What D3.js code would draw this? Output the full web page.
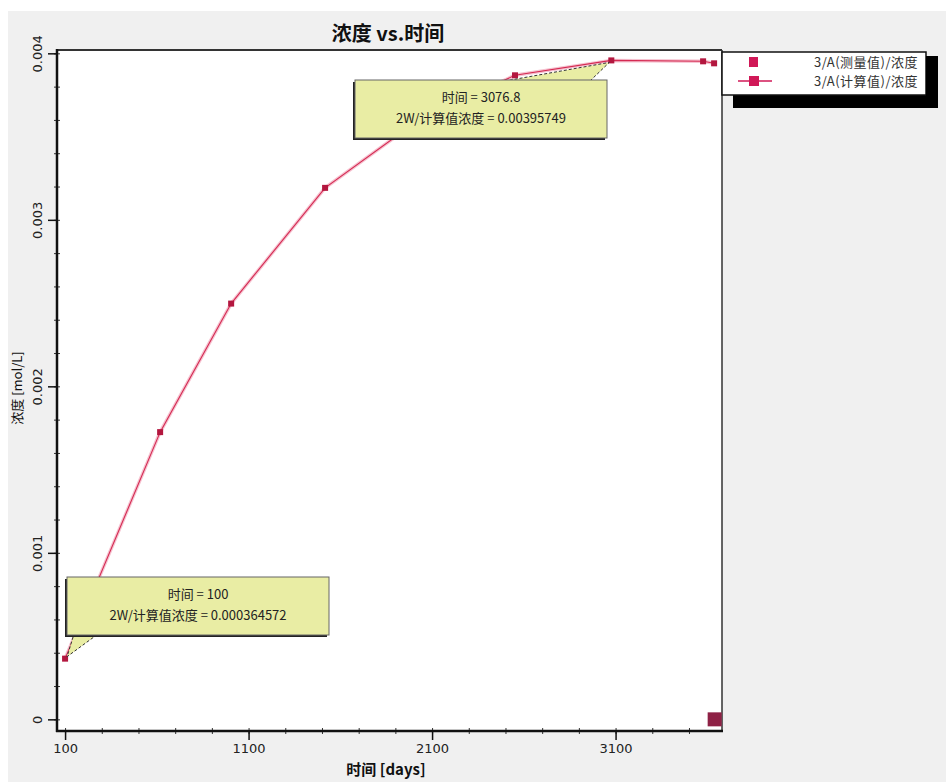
<!DOCTYPE html>
<html>
<head>
<meta charset="utf-8">
<script src="https://cdn.jsdelivr.net/npm/d3@7"></script>
<style>
  body { margin: 0; background: #fff; }
  svg { display: block; font-family: "Noto Sans CJK SC", "DejaVu Sans", sans-serif; }
</style>
</head>
<body>
<div id="chart"></div>
<script>
// ===== データ =====
const calcTimes = [100, 618, 1005, 1517, 2040, 2552, 3076.8, 3577, 3637];
const calcValues = [0.000364572, 0.001725, 0.002497, 0.003192, 0.00361, 0.003868, 0.00395749, 0.003952, 0.00394];
const measTimes = [3640];
const measValues = [0];
const xTicks = [100, 1100, 2100, 3100];
const yTicks = [0, 0.001, 0.002, 0.003, 0.004];
const yTickLabels = ["0", "0.001", "0.002", "0.003", "0.004"];
const legendLabels = ["3/A(测量值)/浓度", "3/A(计算值)/浓度"];
const tipTexts = [
  ["时间 = 100", "2W/计算值浓度 = 0.000364572"],
  ["时间 = 3076.8", "2W/计算值浓度 = 0.00395749"]
];

const W = 946, H = 782;
const P = { left: 57, right: 722, top: 50, bottom: 731 };

const svg = d3.select('#chart').append('svg').attr('width', W).attr('height', H);

// 背景パネル
svg.append('rect').attr('x', 8).attr('y', 11).attr('width', W - 8).attr('height', H - 11).attr('fill', '#f0f0f0');
svg.append('rect').attr('x', P.left).attr('y', P.top)
  .attr('width', P.right - P.left).attr('height', P.bottom - P.top).attr('fill', '#fff');

const x = d3.scaleLinear().domain([56, 3680]).range([P.left, P.right]);
const y = d3.scaleLinear().domain([-0.00007, 0.00402]).range([P.bottom, P.top]);

// 副目盛
const xMinor = d3.range(100, 3680, 200);
const yMinor = d3.range(0, 0.00401, 0.0002);
svg.append('g').attr('transform', `translate(0,${P.bottom})`)
  .call(d3.axisBottom(x).tickValues(xMinor).tickSize(3).tickFormat(''))
  .call(g => g.select('.domain').remove())
  .call(g => g.selectAll('line').attr('y1', -3).attr('stroke', '#333'));
svg.append('g').attr('transform', `translate(${P.left},0)`)
  .call(d3.axisLeft(y).tickValues(yMinor).tickSize(3).tickFormat(''))
  .call(g => g.select('.domain').remove())
  .call(g => g.selectAll('line').attr('x1', 3).attr('stroke', '#333'));

// 主目盛
svg.append('g').attr('transform', `translate(0,${P.bottom})`)
  .call(d3.axisBottom(x).tickValues(xTicks).tickSize(9).tickPadding(4).tickFormat(d3.format('d')))
  .call(g => g.select('.domain').remove())
  .call(g => g.selectAll('line').attr('stroke', '#111').attr('stroke-width', 1.5))
  .call(g => g.selectAll('text').style('font-size', '13px').attr('fill', '#222')
    .style('font-family', '"DejaVu Sans", sans-serif'));

const yAx = svg.append('g').attr('transform', `translate(${P.left},0)`)
  .call(d3.axisLeft(y).tickValues(yTicks).tickSize(9).tickFormat((d, i) => yTickLabels[i]))
  .call(g => g.select('.domain').remove())
  .call(g => g.selectAll('line').attr('stroke', '#111').attr('stroke-width', 1.5));
yAx.selectAll('text')
  .attr('x', null).attr('dy', null)
  .attr('transform', 'translate(-15,0) rotate(-90)')
  .attr('text-anchor', 'middle')
  .style('font-size', '13px').attr('fill', '#222')
  .style('font-family', '"DejaVu Sans", sans-serif');

// 枠
svg.append('line').attr('x1', P.left).attr('x2', P.right).attr('y1', P.top).attr('y2', P.top)
  .attr('stroke', '#333').attr('stroke-width', 2);
svg.append('line').attr('x1', P.right).attr('x2', P.right).attr('y1', P.top).attr('y2', P.bottom)
  .attr('stroke', '#333').attr('stroke-width', 1.5);
svg.append('line').attr('x1', P.left).attr('x2', P.left).attr('y1', P.top - 1).attr('y2', P.bottom + 1)
  .attr('stroke', '#111').attr('stroke-width', 2.5);
svg.append('line').attr('x1', P.left - 1).attr('x2', P.right + 1).attr('y1', P.bottom).attr('y2', P.bottom)
  .attr('stroke', '#111').attr('stroke-width', 2.5);

// 計算値の線
const pts = calcTimes.map((t, i) => [x(t), y(calcValues[i])]);
const line = d3.line();
svg.append('path').attr('d', line(pts)).attr('fill', 'none')
  .attr('stroke', '#f6c2d0').attr('stroke-width', 3.5);
svg.append('path').attr('d', line(pts)).attr('fill', 'none')
  .attr('stroke', '#d42a52').attr('stroke-width', 1.1);
svg.selectAll('rect.pt').data(pts).join('rect').attr('class', 'pt')
  .attr('x', d => d[0] - 3).attr('y', d => d[1] - 3).attr('width', 6).attr('height', 6)
  .attr('fill', '#b3173f');

// 測量値
svg.selectAll('rect.meas').data(measTimes).join('rect').attr('class', 'meas')
  .attr('x', (d, i) => x(d) - 7).attr('y', (d, i) => y(measValues[i]) - 7)
  .attr('width', 14).attr('height', 14).attr('fill', '#8e2145');

// ツールチップ
function tooltip(bx, by, bw, bh, tail, lines) {
  const g = svg.append('g');
  g.append('path').attr('d', d3.line()(tail) + 'Z').attr('fill', '#e9eda4')
    .attr('stroke', '#333').attr('stroke-dasharray', '3,2');
  g.append('rect').attr('x', bx - 2).attr('y', by + 2).attr('width', bw).attr('height', bh).attr('fill', '#222');
  g.append('rect').attr('x', bx).attr('y', by).attr('width', bw).attr('height', bh)
    .attr('fill', '#e9eda4').attr('stroke', '#666').attr('stroke-width', 1);
  lines.forEach((s, i) => {
    g.append('text').attr('x', bx + bw / 2).attr('y', by + 22 + i * 21)
      .attr('text-anchor', 'middle').style('font-size', '13px').attr('fill', '#222').text(s);
  });
}
const p0 = pts[0], p6 = pts[6];
tooltip(67, 577, 262, 58, [[74, 634], [98, 634], [p0[0] + 2, p0[1] - 2]], tipTexts[0]);
tooltip(355, 80, 252, 58, [[505, 81], [590, 81], [p6[0] - 2, p6[1] + 2]], tipTexts[1]);

// 凡例
const lg = svg.append('g');
lg.append('rect').attr('x', 733).attr('y', 56).attr('width', 205).attr('height', 52).attr('fill', '#000');
lg.append('rect').attr('x', 722).attr('y', 52).attr('width', 204).attr('height', 43)
  .attr('fill', '#fff').attr('stroke', '#111').attr('stroke-width', 1.5);
lg.append('rect').attr('x', 749).attr('y', 57).attr('width', 9).attr('height', 10).attr('fill', '#d01857');
lg.append('line').attr('x1', 738).attr('x2', 772).attr('y1', 81).attr('y2', 81)
  .attr('stroke', '#d01857').attr('stroke-width', 1.5);
lg.append('rect').attr('x', 749).attr('y', 76).attr('width', 10).attr('height', 10).attr('fill', '#d01857');
legendLabels.forEach((s, i) => {
  lg.append('text').attr('x', 814).attr('y', 67 + i * 19)
    .style('font-size', '13px').style('letter-spacing', '0.5px').attr('fill', '#333').text(s);
});
lg.append('rect').attr('x', 926).attr('y', 56).attr('width', 11).attr('height', 52).attr('fill', '#000');

// タイトル・軸ラベル
svg.append('text').attr('x', 388).attr('y', 41).attr('text-anchor', 'middle')
  .style('font-size', '20px').style('font-weight', 'bold').attr('fill', '#111').text('浓度 vs.时间');
svg.append('text').attr('x', 386).attr('y', 775).attr('text-anchor', 'middle')
  .style('font-size', '15px').style('font-weight', 'bold').attr('fill', '#111').text('时间 [days]');
svg.append('text').attr('transform', 'translate(22,388) rotate(-90)').attr('text-anchor', 'middle')
  .style('font-size', '13px').attr('fill', '#111').text('浓度 [mol/L]');
</script>
</body>
</html>
